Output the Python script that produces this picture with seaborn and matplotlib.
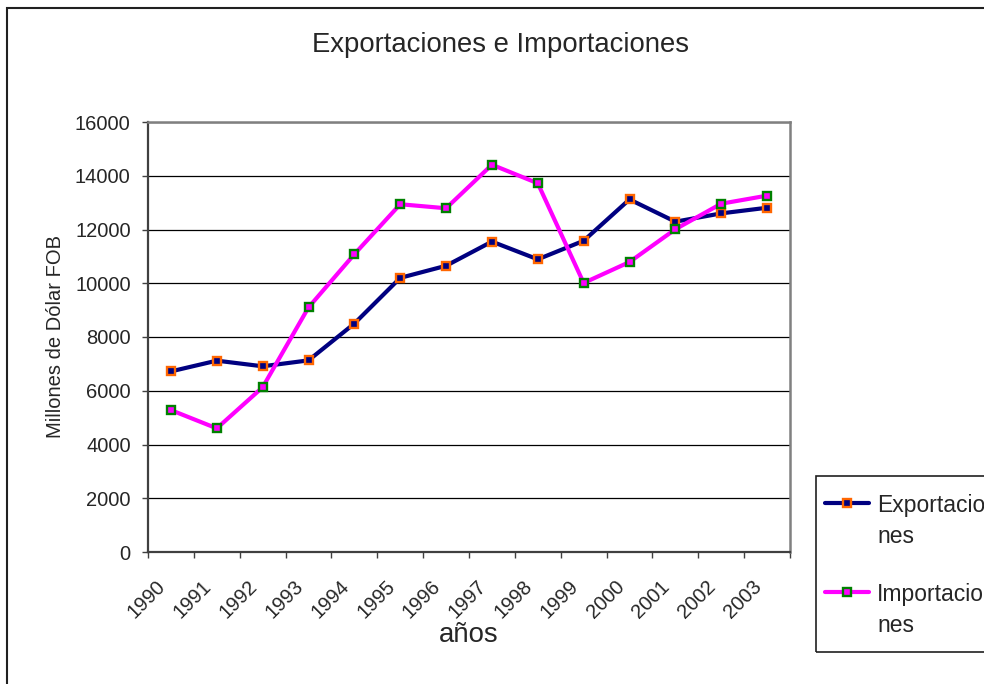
import matplotlib
matplotlib.use("Agg")
import matplotlib.pyplot as plt
import matplotlib.transforms as mtransforms
from matplotlib.patches import Rectangle
from matplotlib.lines import Line2D
import seaborn as sns
import pandas as pd

# Data
years = ["1990", "1991", "1992", "1993", "1994", "1995", "1996",
         "1997", "1998", "1999", "2000", "2001", "2002", "2003"]
exportaciones = [6720, 7120, 6910, 7130, 8500, 10200, 10650,
                 11550, 10890, 11580, 13120, 12290, 12600, 12810]
importaciones = [5280, 4600, 6130, 9100, 11080, 12940, 12790,
                 14410, 13720, 10010, 10790, 12010, 12960, 13260]
y_ticks = list(range(0, 16001, 2000))

sns.set_style("white")
plt.rcParams["font.family"] = ["Liberation Sans", "DejaVu Sans"]

df = pd.DataFrame({"pos": range(len(years)),
                   "Exportaciones": exportaciones,
                   "Importaciones": importaciones})

W, H = 984, 684
fig = plt.figure(figsize=(W / 100, H / 100), dpi=100)
ax = fig.add_axes([148 / W, 1 - 552 / H, (790 - 148) / W, (552 - 122) / H])

exp_style = dict(color="#000080", mec="#FF6600")
imp_style = dict(color="#FF00FF", mec="#008000")

sns.lineplot(data=df, x="pos", y="Exportaciones", ax=ax, color=exp_style["color"],
             lw=3, marker="s", markersize=5.5, markerfacecolor=exp_style["color"],
             markeredgecolor=exp_style["mec"], markeredgewidth=1.7, legend=False)
sns.lineplot(data=df, x="pos", y="Importaciones", ax=ax, color=imp_style["color"],
             lw=3, marker="s", markersize=5.5, markerfacecolor=imp_style["color"],
             markeredgecolor=imp_style["mec"], markeredgewidth=1.7, legend=False)

# Axes
ax.set_xlim(-0.5, len(years) - 0.5)
ax.set_ylim(0, 16000)
ax.set_yticks(y_ticks)
ax.set_yticklabels([str(t) for t in y_ticks], fontsize=14.5)
ax.yaxis.grid(True, color="black", lw=0.9)
ax.set_axisbelow(True)

ax.set_xticks(range(len(years)))
ax.set_xticklabels(years, fontsize=14.5, rotation=45, ha="right",
                   rotation_mode="anchor")
ax.set_xticks([i - 0.5 for i in range(len(years) + 1)], minor=True)
ax.tick_params(axis="x", which="major", length=0, pad=18)
ax.tick_params(axis="x", which="minor", length=4.5, width=1, color="#404040",
               direction="out", bottom=True)
ax.tick_params(axis="y", length=4.5, width=1, color="#404040", direction="out",
               left=True, pad=8)
shift = mtransforms.ScaledTranslation(-0.15, 0, fig.dpi_scale_trans)
for lab in ax.get_xticklabels():
    lab.set_transform(lab.get_transform() + shift)

for side in ["top", "right"]:
    ax.spines[side].set_color("#808080")
    ax.spines[side].set_linewidth(1.8)
for side in ["left", "bottom"]:
    ax.spines[side].set_color("#404040")
    ax.spines[side].set_linewidth(1.6)

ax.set_xlabel("años", fontsize=19.8)
ax.xaxis.set_label_coords(0.5, (552 - 635) / 430)
ax.xaxis.label.set_va("center")
ax.set_ylabel("Millones de Dólar FOB", fontsize=14.5)
ax.yaxis.set_label_coords((55 - 148) / 642, 0.5)
ax.yaxis.label.set_va("center")

fig.text(501 / W, 1 - 45 / H, "Exportaciones e Importaciones", fontsize=19.8,
         ha="center", va="center")

# Chart border (runs past the right and bottom edges)
fig.add_artist(Rectangle((7 / W, -0.1), 1.2, 1.1 - 8 / H, transform=fig.transFigure,
                         fill=False, ec="#202020", lw=1.5))

# Legend box
fig.add_artist(Rectangle((816 / W, 1 - 652 / H), 0.3, (652 - 476) / H,
                         transform=fig.transFigure, fill=False, ec="#202020", lw=1.2))
for y_px, label, st in [(503, "Exportacio\nnes", exp_style),
                        (592, "Importacio\nnes", imp_style)]:
    yf = 1 - y_px / H
    fig.add_artist(Line2D([825 / W, 869 / W], [yf, yf], color=st["color"], lw=3,
                          transform=fig.transFigure))
    fig.add_artist(Line2D([847 / W], [yf], marker="s", markersize=5.5,
                          markerfacecolor=st["color"], markeredgecolor=st["mec"],
                          markeredgewidth=1.7, transform=fig.transFigure))
    fig.text(877 / W, 1 - (y_px - 9) / H, label, fontsize=16.5, ha="left",
             va="top", linespacing=1.42)

fig.savefig("out.png", dpi=100)
